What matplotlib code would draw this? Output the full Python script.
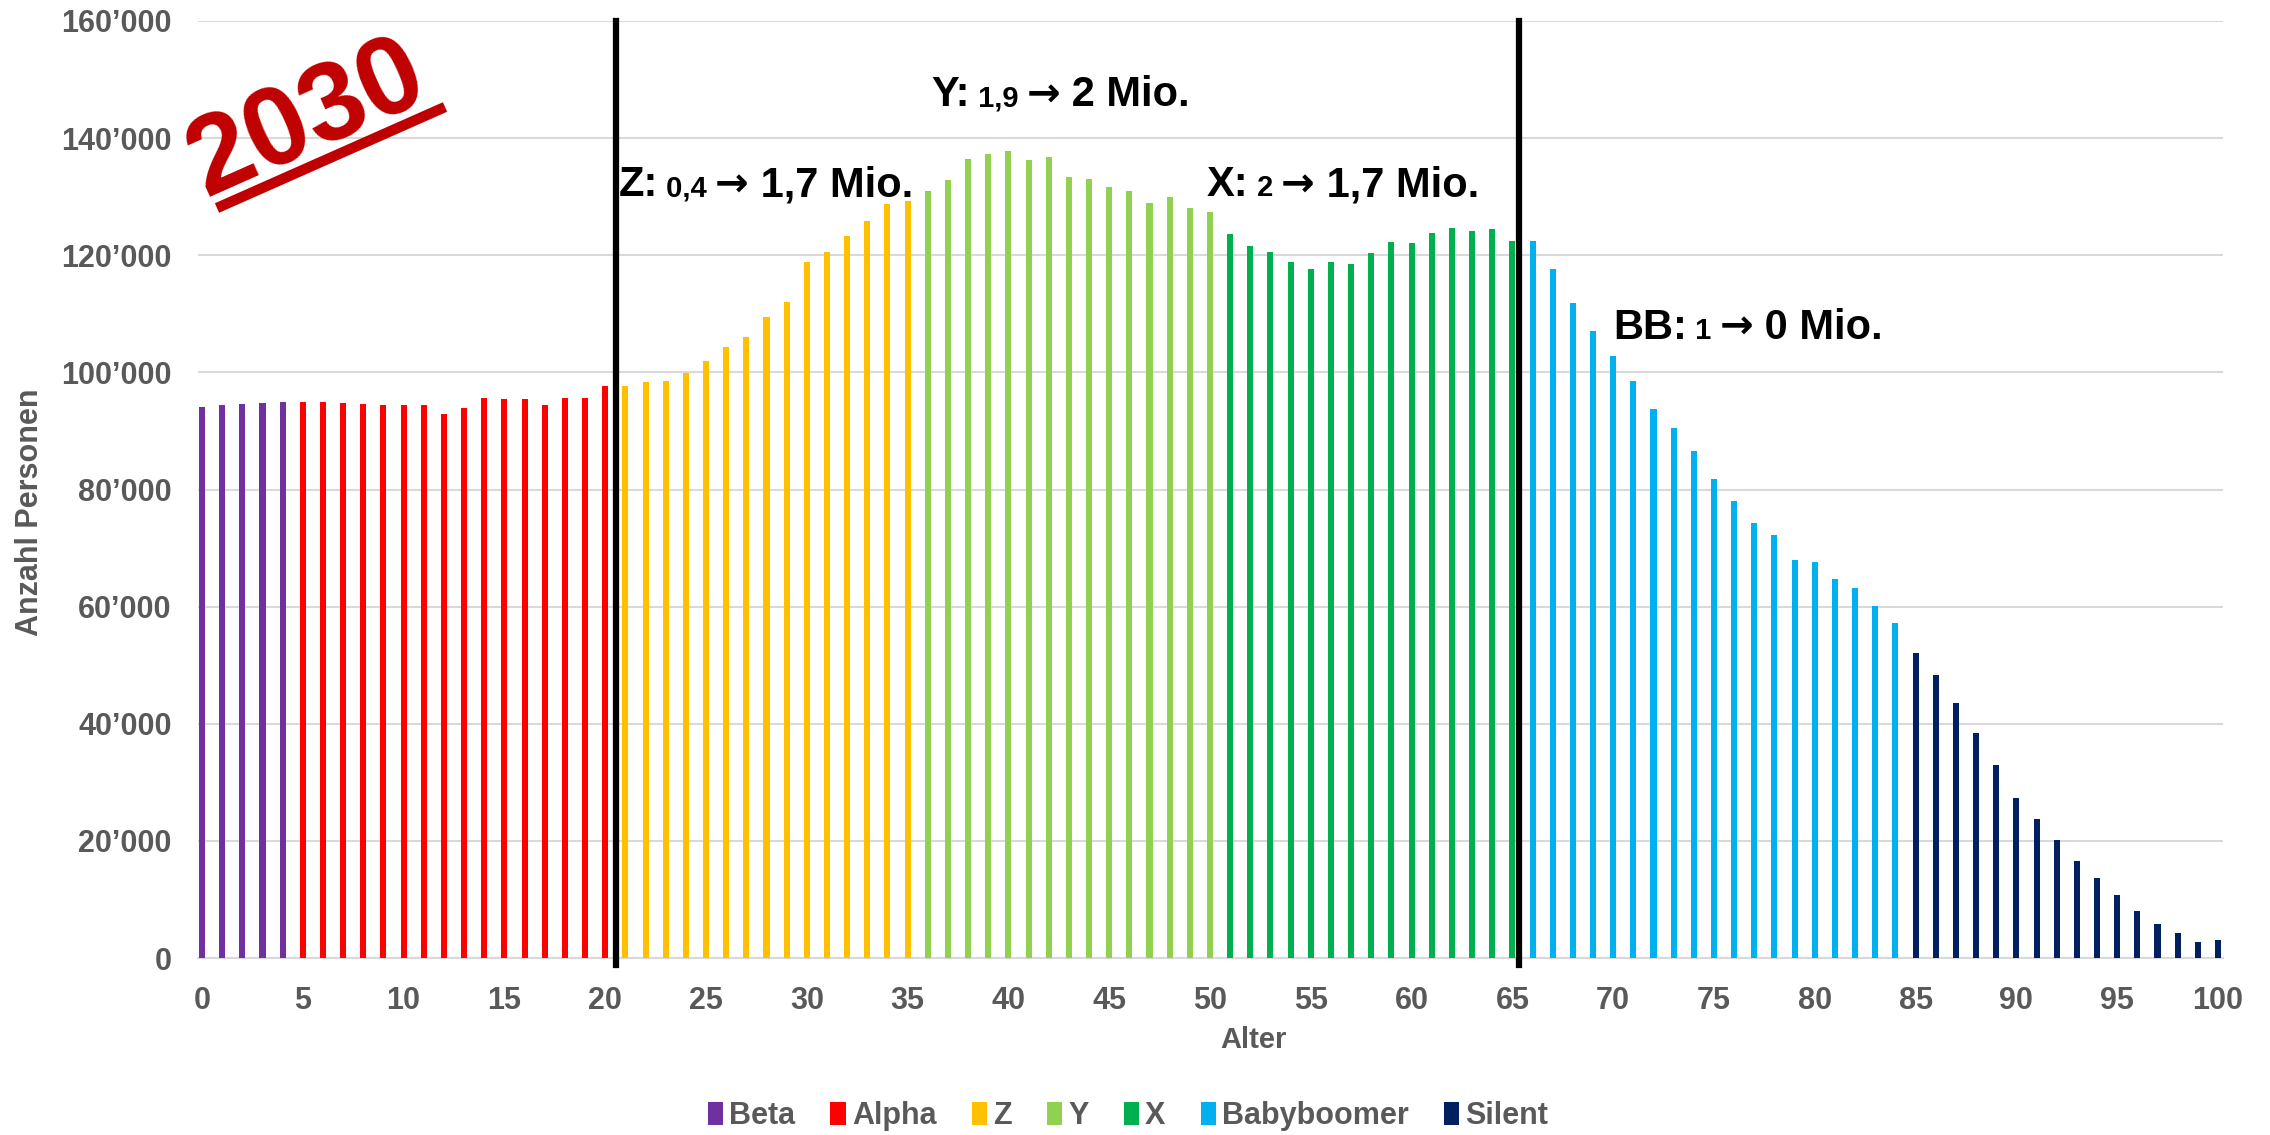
import matplotlib.pyplot as plt
from matplotlib.patches import Patch
from matplotlib.lines import Line2D
from matplotlib.offsetbox import TextArea, HPacker, AnnotationBbox

plt.rcParams['font.family'] = ['Liberation Sans', 'DejaVu Sans']

# Bevoelkerung nach Alter 2030, je Generation (Alter 0..100 fortlaufend)
gen_names = ["Beta", "Alpha", "Z", "Y", "X", "Babyboomer", "Silent"]
gen_colors = ["#7030A0", "#FF0000", "#FFC000", "#92D050", "#00B050", "#00B0F0", "#002060"]

beta = [94100, 94400, 94600, 94800, 94900]
alpha = [94900, 94900, 94800, 94600, 94500, 94400, 94400, 92900,
         94000, 95600, 95400, 95500, 94400, 95700, 95700, 97700]
gen_z = [97600, 98400, 98600, 99900, 102000, 104400, 106100, 109500,
         112100, 118800, 120600, 123300, 125900, 128700, 129300]
gen_y = [131000, 132900, 136500, 137300, 137800, 136200, 136700, 133300,
         133100, 131700, 131000, 129000, 129900, 128100, 127400]
gen_x = [123700, 121500, 120600, 118900, 117600, 118900, 118500, 120300,
         122300, 122100, 123800, 124600, 124100, 124400, 122500]
boomer = [122400, 117600, 111900, 107100, 102800, 98600, 93700, 90500, 86600,
          81800, 78100, 74200, 72200, 67900, 67700, 64700, 63200, 60100, 57200]
silent = [52100, 48300, 43600, 38500, 33000, 27400, 23800, 20200,
          16600, 13700, 10800, 8100, 5800, 4200, 2700, 3000]
gen_values = [beta, alpha, gen_z, gen_y, gen_x, boomer, silent]

y_ticks = [0, 20000, 40000, 60000, 80000, 100000, 120000, 140000, 160000]
x_ticks = list(range(0, 101, 5))
cut_ages = [20.52, 65.31]

GRAY = "#595959"
BIG = 30
SMALL = 21
ARROW = 29

fig = plt.figure(figsize=(22.7, 11.35), dpi=100)
ax = fig.add_axes([198/2270, 1 - 958/1135, 2025/2270, 937/1135])

start = 0
for name, vals, col in zip(gen_names, gen_values, gen_colors):
    ages = list(range(start, start + len(vals)))
    ax.bar(ages, vals, width=0.3, color=col, label=name, zorder=3)
    start += len(vals)

for a in cut_ages:
    ax.plot([a, a], [-1200, 160000], color="black", lw=4.5, zorder=6, clip_on=False)

ax.set_xlim(-0.2, 100.25)
ax.set_ylim(0, 160000)
ax.set_yticks(y_ticks)
ax.set_yticklabels([f"{v:,.0f}".replace(",", "\u2019") for v in y_ticks])
ax.set_xticks(x_ticks)
ax.tick_params(axis="both", length=0, labelsize=22, labelcolor=GRAY)
ax.tick_params(axis="x", pad=20)
ax.tick_params(axis="y", pad=19)
for lab in ax.get_xticklabels() + ax.get_yticklabels():
    lab.set_fontweight("bold")

ax.grid(axis="y", color="#D9D9D9", lw=1.5, zorder=0)
ax.set_axisbelow(True)
for s in ["top", "right", "left"]:
    ax.spines[s].set_visible(False)
ax.spines["bottom"].set_color("#D9D9D9")
ax.spines["bottom"].set_linewidth(1.5)

ax.set_xlabel("Alter", fontsize=21, fontweight="bold", color=GRAY)
ax.xaxis.set_label_coords(0.521, -0.0875)
ax.xaxis.label.set_va("center")
ax.set_ylabel("Anzahl Personen", fontsize=22, fontweight="bold", color=GRAY)
ax.yaxis.set_label_coords(-0.083, 0.476)
ax.yaxis.label.set_va("center")


def mixed_label(x, y, first, old, new):
    bold = dict(fontweight="bold", color="black")
    boxes = [TextArea(first, textprops=dict(fontsize=BIG, **bold)),
             TextArea(" " + old + " ", textprops=dict(fontsize=SMALL, **bold)),
             TextArea("\u2192", textprops=dict(fontsize=ARROW, family="DejaVu Sans", **bold)),
             TextArea(" " + new, textprops=dict(fontsize=BIG, **bold))]
    pack = HPacker(children=boxes, align="baseline", pad=0, sep=0)
    ab = AnnotationBbox(pack, (x, y), xycoords="data", box_alignment=(0, 0),
                        frameon=False, pad=0, zorder=7)
    ax.add_artist(ab)


mixed_label(20.68, 128500, "Z:", "0,4", "1,7 Mio.")
mixed_label(36.19, 143900, "Y:", "1,9", "2 Mio.")
mixed_label(49.85, 128500, "X:", "2", "1,7 Mio.")
mixed_label(69.99, 104200, "BB:", "1", "0 Mio.")

# 2030 Stempel
fig.text(302/2270, 1 - 110/1135, "2030", fontsize=80, fontweight="bold",
         color="#C00000", rotation=24, ha="center", va="center_baseline",
         rotation_mode="anchor")
fig.add_artist(Line2D([217/2270, 445/2270], [1 - 208/1135, 1 - 107/1135],
                      transform=fig.transFigure, color="#C00000", lw=7.5,
                      solid_capstyle="butt"))

handles = [Patch(facecolor=c, label=n) for n, c in zip(gen_names, gen_colors)]
leg = fig.legend(handles=handles, loc="center", bbox_to_anchor=(0.4969, 1 - 1116/1135),
                 ncol=7, frameon=False, fontsize=22, handlelength=0.5,
                 handleheight=0.8, handletextpad=0.2, columnspacing=1.15)
for t in leg.get_texts():
    t.set_color(GRAY)
    t.set_fontweight("bold")

fig.savefig("out.png", dpi=100)
